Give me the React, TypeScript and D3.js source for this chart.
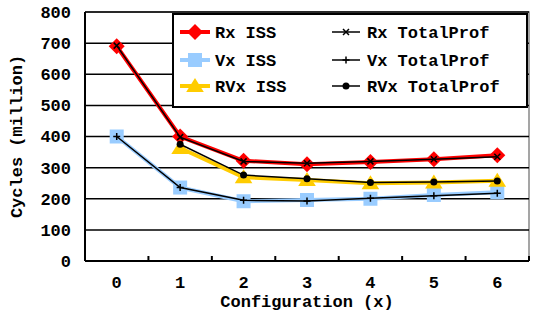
import React from 'react';
import * as d3 from 'd3';

const configs = [0, 1, 2, 3, 4, 5, 6];
const yTicks = [0, 100, 200, 300, 400, 500, 600, 700, 800];

const rxIss = [690, 400, 322, 311, 318, 327, 340];
const vxIss = [400, 236, 192, 196, 200, 212, 221];
const rvxIss = [null, 363, 269, 260, 250, 252, 258];
const rxProf = [692, 398, 320, 314, 320, 327, 335];
const vxProf = [400, 236, 195, 193, 202, 210, 218];
const rvxProf = [null, 375, 276, 264, 252, 254, 257];

const W = 536;
const H = 316;
const left = 85;
const right = 529;
const top = 12;
const bottom = 261;
const font = '"Liberation Mono", "Courier New", monospace';
const fs = 17;

const x = d3.scaleBand<number>().domain(configs).range([left, right]).padding(0);
const y = d3.scaleLinear().domain([0, 800]).range([bottom, top]);
const cx = (i: number) => (x(configs[i]) as number) + x.bandwidth() / 2;

type Pt = { i: number; v: number };
const pts = (vals: (number | null)[]): Pt[] =>
  vals.map((v, i) => ({ i, v })).filter((d) => d.v !== null) as Pt[];

const line = d3.line<Pt>().x((d) => cx(d.i)).y((d) => y(d.v));

const diamond = (s: number) => `M0,${-s}L${s},0L0,${s}L${-s},0Z`;
const square = (s: number) => `M${-s},${-s}H${s}V${s}H${-s}Z`;
const tri = (s: number) => `M0,${-s}L${s * 1.1},${s * 0.75}L${-s * 1.1},${s * 0.75}Z`;
const cross = (s: number) => `M${-s},${-s}L${s},${s}M${-s},${s}L${s},${-s}`;
const plus = (s: number) => `M${-s},0H${s}M0,${-s}V${s}`;

const issSeries = [
  { name: 'Rx ISS', data: rxIss, color: '#ff0000', marker: diamond(8) },
  { name: 'Vx ISS', data: vxIss, color: '#99ccff', marker: square(7) },
  { name: 'RVx ISS', data: rvxIss, color: '#ffcc00', marker: tri(8) },
];
const profSeries = [
  { name: 'Rx TotalProf', data: rxProf, marker: 'x' },
  { name: 'Vx TotalProf', data: vxProf, marker: '+' },
  { name: 'RVx TotalProf', data: rvxProf, marker: 'o' },
];

const ProfMarker = ({ kind }: { kind: string }) =>
  kind === 'o' ? (
    <circle r={3.5} fill="#000" />
  ) : (
    <path d={kind === 'x' ? cross(3) : plus(3.5)} stroke="#000" strokeWidth={1.5} fill="none" />
  );

export default function App() {
  const bandTicks = configs.slice(1).map((c) => x(c) as number).concat([right]);
  const legendRows = [32, 60, 86];
  return (
    <svg width={W} height={H} style={{ position: 'absolute', left: 0, top: 0 }} fontFamily={font} fontWeight="bold">
      <rect width={W} height={H} fill="#fff" />
      {/* plot frame */}
      <path d={`M${left},${top}H${right}V${bottom}`} stroke="#888" strokeWidth={1.5} fill="none" />
      {yTicks.map((t) => (
        <g key={t}>
          {t > 0 && <line x1={left} x2={right} y1={y(t)} y2={y(t)} stroke="#000" strokeWidth={1.5} />}
          <text x={left - 14} y={y(t)} dy="0.35em" textAnchor="end" fontSize={fs}>
            {t}
          </text>
        </g>
      ))}
      <line x1={left} x2={left} y1={top} y2={bottom} stroke="#000" strokeWidth={2} />
      <line x1={left} x2={right} y1={bottom} y2={bottom} stroke="#000" strokeWidth={2} />
      {bandTicks.map((t, k) => (
        <line key={k} x1={t} x2={t} y1={bottom} y2={bottom - 5} stroke="#000" strokeWidth={2} />
      ))}
      {configs.map((c, i) => (
        <text key={c} x={cx(i)} y={288} textAnchor="middle" fontSize={fs}>
          {c}
        </text>
      ))}
      <text x={(left + right) / 2} y={307} textAnchor="middle" fontSize={fs}>
        Configuration (x)
      </text>
      <text transform={`translate(22,${(top + bottom) / 2}) rotate(-90)`} textAnchor="middle" fontSize={fs}>
        Cycles (million)
      </text>

      {/* ISS series */}
      {issSeries.map((s) => (
        <g key={s.name}>
          <path d={line(pts(s.data)) as string} stroke={s.color} strokeWidth={4} fill="none" />
          {pts(s.data).map((d) => (
            <path key={d.i} d={s.marker} transform={`translate(${cx(d.i)},${y(d.v)})`} fill={s.color} />
          ))}
        </g>
      ))}
      {/* TotalProf series */}
      {profSeries.map((s) => (
        <g key={s.name}>
          <path d={line(pts(s.data)) as string} stroke="#000" strokeWidth={1.5} fill="none" />
          {pts(s.data).map((d) => (
            <g key={d.i} transform={`translate(${cx(d.i)},${y(d.v)})`}>
              <ProfMarker kind={s.marker} />
            </g>
          ))}
        </g>
      ))}

      {/* legend */}
      <rect x={173} y={14} width={354} height={93} fill="#fff" stroke="#000" strokeWidth={2} />
      {issSeries.map((s, k) => (
        <g key={s.name} transform={`translate(0,${legendRows[k]})`}>
          <line x1={180} x2={210} stroke={s.color} strokeWidth={4} />
          <path d={s.marker} transform="translate(195,0)" fill={s.color} />
          <text x={215} dy="0.35em" fontSize={fs}>
            {s.name}
          </text>
        </g>
      ))}
      {profSeries.map((s, k) => (
        <g key={s.name} transform={`translate(0,${legendRows[k]})`}>
          <line x1={332} x2={360} stroke="#000" strokeWidth={1.5} />
          <g transform="translate(346,0)">
            <ProfMarker kind={s.marker} />
          </g>
          <text x={367} dy="0.35em" fontSize={fs}>
            {s.name}
          </text>
        </g>
      ))}
    </svg>
  );
}
